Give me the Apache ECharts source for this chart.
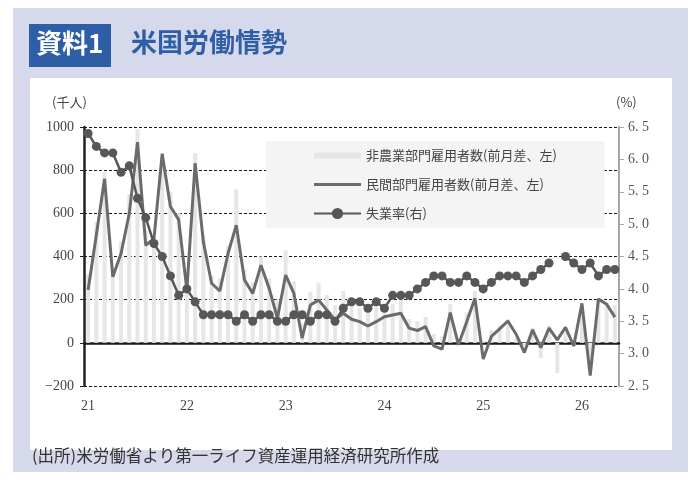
<!DOCTYPE html>
<html>
<head>
<meta charset="utf-8">
<script src="https://cdn.jsdelivr.net/npm/echarts@6/dist/echarts.min.js"></script>
<style>
  html, body { margin: 0; padding: 0; background: #fff; }
  #chart { width: 700px; height: 483px; }
</style>
</head>
<body>
<div id="chart"></div>
<script>
// monthly, Jan 2021 .. May 2026
var years = ['21', '22', '23', '24', '25', '26'];
var categories = [];
years.forEach(function (y) {
  for (var m = 1; m <= 12; m++) categories.push(y + '/' + m);
});
categories = categories.slice(0, 65);

// 非農業部門雇用者数 (前月差, 千人)
var nonfarm = [
  316, 560, 790, 320, 470, 690, 990, 520, 470, 860, 700, 600,
  300, 880, 500, 310, 300, 450, 710, 340, 280, 400, 299, 200,
  429, 286, 90, 237, 279, 222, 175, 240, 200, 160, 150, 170,
  160, 180, 200, 110, 100, 120, 40, 30, 180, 20, 140, 240,
  10, 60, 80, 110, 20, -15, 70, -70, 80, -140, 60, -20,
  130, -100, 200, 185, 175
];

// 民間部門雇用者数 (前月差, 千人)
var privatePayrolls = [
  245, 500, 760, 306, 414, 599, 930, 452, 483, 876, 632, 571,
  245, 832, 468, 276, 240, 414, 545, 291, 229, 360, 252, 114,
  314, 229, 22, 175, 198, 152, 106, 137, 109, 98, 78, 98,
  121, 129, 137, 68, 57, 75, -14, -29, 140, -9, 98, 206,
  -75, 30, 65, 101, 40, -45, 60, -22, 68, 14, 72, -14,
  183, -152, 203, 179, 119
];

// 失業率 (%)  Oct 2025 not published
var unemployment = [
  6.4, 6.2, 6.1, 6.1, 5.8, 5.9, 5.4, 5.1, 4.7, 4.5, 4.2, 3.9,
  4.0, 3.8, 3.6, 3.6, 3.6, 3.6, 3.5, 3.6, 3.5, 3.6, 3.6, 3.5,
  3.5, 3.6, 3.6, 3.5, 3.6, 3.6, 3.5, 3.7, 3.8, 3.8, 3.7, 3.8,
  3.7, 3.9, 3.9, 3.9, 4.0, 4.1, 4.2, 4.2, 4.1, 4.1, 4.2, 4.1,
  4.0, 4.1, 4.2, 4.2, 4.2, 4.1, 4.2, 4.3, 4.4, null, 4.5, 4.4,
  4.3, 4.4, 4.2, 4.3, 4.3
];

var seriesNames = ['非農業部門雇用者数(前月差、左)', '民間部門雇用者数(前月差、左)', '失業率(右)'];

var numFont = 'Liberation Serif';
var jpFont = 'Noto Sans CJK JP';

var chart = echarts.init(document.getElementById('chart'));

var option = {
  animation: false,
  backgroundColor: '#fff',
  graphic: [
    { type: 'rect', z: -10, shape: { x: 13, y: 8, width: 675, height: 464 }, style: { fill: '#d6d9ec' } },
    { type: 'rect', z: -9, shape: { x: 30, y: 78, width: 642, height: 372 }, style: { fill: '#fff' } },
    { type: 'rect', z: 1, shape: { x: 29, y: 24, width: 82, height: 43 }, style: { fill: '#2d5ea6' } },
    { type: 'text', z: 2, left: 36, top: 30, style: { text: '資料1', fill: '#fff', font: 'bold 26px "Noto Sans CJK JP"' } },
    { type: 'text', z: 2, left: 131, top: 29, style: { text: '米国労働情勢', fill: '#2d5ea6', font: 'bold 26px "Noto Sans CJK JP"' } },
    { type: 'text', z: 2, left: 32, top: 447, style: { text: '(出所)米労働省より第一ライフ資産運用経済研究所作成', fill: '#333', font: '16.5px "Noto Sans CJK JP"' } },
    { type: 'text', z: 2, left: 52, top: 96, style: { text: '(千人)', fill: '#444', font: '13px "Noto Sans CJK JP"' } },
    { type: 'text', z: 2, left: 616, top: 96, style: { text: '(%)', fill: '#444', font: '13px "Noto Sans CJK JP"' } }
  ],
  grid: { left: 84, right: 81, top: 127, bottom: 97 },
  legend: {
    orient: 'vertical',
    left: 266,
    top: 141,
    padding: [8, 48, 8, 47],
    itemGap: 16,
    itemWidth: 47,
    itemHeight: 14,
    backgroundColor: '#f4f4f4',
    textStyle: { fontFamily: jpFont, fontSize: 13, color: '#444' },
    data: [
      { name: seriesNames[0], icon: 'path://M0,0 L47,0 L47,6 L0,6 Z', itemStyle: { color: '#e6e6e6' } },
      { name: seriesNames[1], icon: 'path://M0,0 L47,0 L47,3 L0,3 Z', itemStyle: { color: '#6b6b6b' } },
      { name: seriesNames[2] }
    ]
  },
  xAxis: [
    {
      type: 'category',
      data: categories,
      boundaryGap: true,
      axisLine: { show: false, onZero: false },
      axisTick: { show: false },
      axisLabel: {
        interval: function (i) { return i % 12 === 0; },
        formatter: function (v) { return v.split('/')[0]; },
        fontFamily: numFont, fontSize: 14, color: '#444', margin: 13
      },
      splitLine: { show: false }
    },
    {
      type: 'category',
      data: categories,
      position: 'bottom',
      boundaryGap: true,
      axisLine: { onZero: true, onZeroAxisIndex: 0, lineStyle: { color: '#1a1a1a', width: 2.5 } },
      axisTick: { inside: true, length: 4, interval: 0, alignWithLabel: true, lineStyle: { color: '#1a1a1a', width: 1.5 } },
      axisLabel: { show: false },
      splitLine: { show: false }
    }
  ],
  yAxis: [
    {
      type: 'value',
      min: -200, max: 1000, interval: 200,
      axisLine: { show: true, lineStyle: { color: '#222', width: 2.5 } },
      axisTick: { show: true, length: 4, lineStyle: { color: '#222' } },
      axisLabel: {
        fontFamily: numFont, fontSize: 14, color: '#444', margin: 10,
        formatter: function (v) { return v < 0 ? '\u2212' + Math.abs(v) : String(v); }
      },
      splitLine: { show: true, lineStyle: { color: '#1a1a1a', width: 1, type: [3, 2] } }
    },
    {
      type: 'value',
      min: 2.5, max: 6.5, interval: 0.5,
      position: 'right',
      axisLine: { show: true, lineStyle: { color: '#a6a6a6', width: 2 } },
      axisTick: { show: true, length: 5, lineStyle: { color: '#a6a6a6' } },
      axisLabel: {
        fontFamily: numFont, fontSize: 14, color: '#555', margin: 9,
        formatter: function (v) { return v.toFixed(1).replace('.', '. '); }
      },
      splitLine: { show: false }
    }
  ],
  series: [
    {
      name: seriesNames[0],
      type: 'bar',
      xAxisIndex: 0,
      yAxisIndex: 0,
      data: nonfarm,
      barWidth: 4,
      itemStyle: { color: '#e6e6e6' },
      z: 1
    },
    {
      name: seriesNames[1],
      type: 'line',
      xAxisIndex: 0,
      yAxisIndex: 0,
      data: privatePayrolls,
      symbol: 'none',
      lineStyle: { color: '#6b6b6b', width: 3 },
      itemStyle: { color: '#6b6b6b' },
      z: 3
    },
    {
      name: seriesNames[2],
      type: 'line',
      xAxisIndex: 0,
      yAxisIndex: 1,
      data: unemployment,
      connectNulls: false,
      showAllSymbol: true,
      symbol: 'circle',
      symbolSize: 9,
      lineStyle: { color: '#575757', width: 2.5 },
      itemStyle: { color: '#575757' },
      z: 4
    }
  ]
};

chart.setOption(option);
</script>
</body>
</html>
